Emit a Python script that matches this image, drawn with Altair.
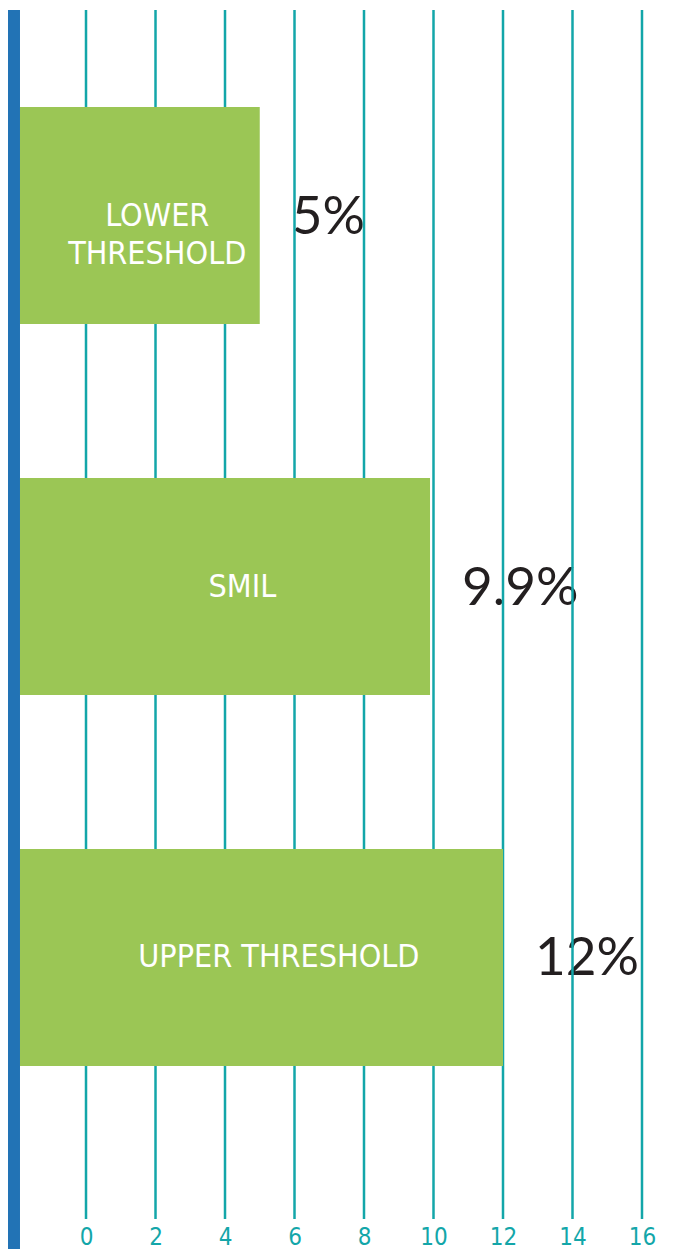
import altair as alt
import pandas as pd

# ---- data ----
categories = ["Lower threshold", "SMIL", "Upper threshold"]
bar_labels = ["LOWER\nTHRESHOLD", "SMIL", "UPPER THRESHOLD"]
values = [5, 9.9, 12]
value_labels = [f"{v:g}%" for v in values]
ticks = [0, 2, 4, 6, 8, 10, 12, 14, 16]

# ---- layout constants ----
XMIN, XMAX = -2.245, 16.662
BAR_START = -1.9
W, H = 657, 1209

TEAL = "#13a6a9"
GREEN = "#9bc655"
BLUE = "#2273b5"
DARK = "#231f20"
COND = "'Liberation Sans Narrow', 'DejaVu Sans Condensed', 'Roboto', sans-serif"

df = pd.DataFrame({
    "category": categories,
    "label": bar_labels,
    "value": values,
    "vlabel": value_labels,
})
df["start"] = BAR_START
tick_df = pd.DataFrame({"tick": ticks})

xscale = alt.Scale(domain=[XMIN, XMAX], nice=False, zero=False)
xaxis = alt.Axis(values=ticks, grid=False, domain=False, ticks=False, tickSize=0,
                 labelColor=TEAL, labelFontSize=24, labelFont=COND,
                 labelPadding=18, labelBaseline="middle", title=None)
yscale = alt.Scale(domain=categories, paddingInner=0.415, paddingOuter=0.3369, align=0.388)
yenc = alt.Y("category:N", scale=yscale, axis=None, sort=categories)

stripe = alt.Chart(tick_df).mark_rect(color=BLUE).encode(
    x=alt.XDatum(XMIN, type="quantitative", scale=xscale, axis=xaxis),
    x2=alt.X2Datum(BAR_START),
    y=alt.value(0),
    y2=alt.value(1260),
).transform_filter(alt.datum.tick == 0)

value_text = alt.Chart(df).mark_text(
    align="left", baseline="middle", dx=32, dy=2, fontSize=53, font="Lato", color=DARK
).encode(
    x=alt.X("value:Q", scale=xscale, axis=xaxis),
    y=yenc,
    text="vlabel:N",
)

grid = alt.Chart(tick_df).mark_rule(color=TEAL, strokeWidth=2.5).encode(
    x=alt.X("tick:Q", scale=xscale, axis=xaxis),
)

bars = alt.Chart(df).mark_bar(color=GREEN).encode(
    x=alt.X("start:Q", scale=xscale, axis=xaxis),
    x2="value:Q",
    y=yenc,
)

bar_text = alt.Chart(df).transform_calculate(
    mid="(datum.start + datum.value) / 2 + 0.5"
).mark_text(
    align="center", baseline="middle", fontSize=32, font=COND, color="white",
    lineBreak="\n", lineHeight=38
).encode(
    x=alt.X("mid:Q", scale=xscale, axis=xaxis),
    y=yenc,
    text="label:N",
)

chart = alt.layer(stripe, value_text, grid, bars, bar_text).properties(
    width=W, height=H, padding=0, background="white"
).configure_view(stroke=None)

chart.save("out.html", embed_options={"renderer": "svg", "actions": False})
